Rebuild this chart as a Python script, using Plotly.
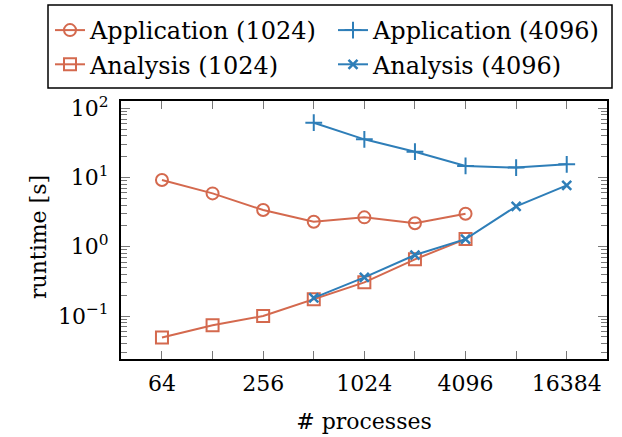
import plotly.graph_objects as go

procs_1024 = [64, 128, 256, 512, 1024, 2048, 4096]
app_1024 = [9.2, 5.9, 3.39, 2.30, 2.66, 2.18, 3.0]
ana_1024 = [0.0488, 0.0735, 0.100, 0.174, 0.306, 0.658, 1.29]

procs_4096 = [512, 1024, 2048, 4096, 8192, 16384]
app_4096 = [61.9, 35.6, 23.6, 14.7, 13.9, 15.5]
ana_4096 = [0.183, 0.361, 0.76, 1.29, 3.84, 7.7]

x_tickvals = [64, 256, 1024, 4096, 16384]
x_ticktext = ["64", "256", "1024", "4096", "16384"]
x_minorvals = [128, 512, 2048, 8192]
y_tickvals = [0.1, 1, 10, 100]
y_ticktext = ["10<sup>\u22121</sup>", "10<sup>0</sup>", "10<sup>1</sup>", "10<sup>2</sup>"]
y_minorvals = [m * 10 ** e for e in (-2, -1, 0, 1) for m in range(2, 10)]

ORANGE = "#D4694E"
BLUE = "#2E7EB8"
FONT = "DejaVu Serif"

W, H = 622, 437
ML, MR, MT, MB = 121, 15, 101, 78
PW, PH = W - ML - MR, H - MT - MB


def px_x(px):
    return (px - ML) / PW


def px_y(py):
    return (H - MB - py) / PH


fig = go.Figure()
fig.add_trace(go.Scatter(x=procs_1024, y=app_1024, name="Application (1024)", mode="lines+markers",
                         legend="legend",
                         line=dict(color=ORANGE, width=2),
                         marker=dict(symbol="circle-open", size=12, color=ORANGE, line=dict(width=2, color=ORANGE))))
fig.add_trace(go.Scatter(x=procs_4096, y=app_4096, name="Application (4096)", mode="lines+markers",
                         legend="legend2",
                         line=dict(color=BLUE, width=2),
                         marker=dict(symbol="cross-thin-open", size=12, color=BLUE, line=dict(width=2, color=BLUE))))
fig.add_trace(go.Scatter(x=procs_1024, y=ana_1024, name="Analysis (1024)", mode="lines+markers",
                         legend="legend",
                         line=dict(color=ORANGE, width=2),
                         marker=dict(symbol="square-open", size=12, color=ORANGE, line=dict(width=2, color=ORANGE))))
fig.add_trace(go.Scatter(x=procs_4096, y=ana_4096, name="Analysis (4096)", mode="lines+markers",
                         legend="legend2",
                         line=dict(color=BLUE, width=2),
                         marker=dict(symbol="x-thin-open", size=9, color=BLUE, line=dict(width=2.5, color=BLUE))))

legend_common = dict(
    orientation="v", xref="container", yref="container",
    xanchor="left", yanchor="top",
    bgcolor="rgba(0,0,0,0)", borderwidth=0,
    font=dict(family=FONT, size=24, color="black"),
    tracegroupgap=0, itemwidth=30,
)

fig.update_layout(
    width=W, height=H,
    margin=dict(l=ML, r=MR, t=MT, b=MB, autoexpand=False),
    paper_bgcolor="white", plot_bgcolor="white",
    font=dict(family=FONT, size=22, color="black"),
    showlegend=True,
    legend=dict(legend_common, x=50 / W, y=1 - 8 / H),
    legend2=dict(legend_common, x=333 / W, y=1 - 8 / H),
    shapes=[dict(type="rect", xref="paper", yref="paper",
                 x0=px_x(48), x1=px_x(612), y0=px_y(88), y1=px_y(5),
                 line=dict(color="black", width=1.5), fillcolor="rgba(0,0,0,0)", layer="above")],
    annotations=[dict(text="runtime [s]", xref="paper", yref="paper",
                      x=px_x(38), y=px_y(237), xanchor="center", yanchor="middle",
                      textangle=-90, showarrow=False,
                      font=dict(family=FONT, size=22, color="black"))],
    xaxis=dict(
        type="log", range=[1.5624, 4.454],
        tickvals=x_tickvals, ticktext=x_ticktext,
        ticks="inside", ticklen=8, tickwidth=1, tickcolor="#777777",
        showline=True, linecolor="black", linewidth=2, mirror="allticks",
        showgrid=False, zeroline=False,
        minor=dict(ticks="inside", ticklen=8, tickwidth=1, tickcolor="#777777",
                   tickvals=x_minorvals, showgrid=False),
        ticklabelstandoff=4,
        title=dict(text="# processes", font=dict(family=FONT, size=22), standoff=18),
    ),
    yaxis=dict(
        type="log", range=[-1.621, 2.105],
        tickvals=y_tickvals, ticktext=y_ticktext,
        ticks="inside", ticklen=9, tickwidth=1, tickcolor="#777777",
        showline=True, linecolor="black", linewidth=2, mirror="allticks",
        showgrid=False, zeroline=False,
        minor=dict(ticks="inside", ticklen=6, tickwidth=1, tickcolor="#777777",
                   tickvals=y_minorvals, showgrid=False),
        ticklabelstandoff=6,
    ),
)

fig.write_html("out.html")
